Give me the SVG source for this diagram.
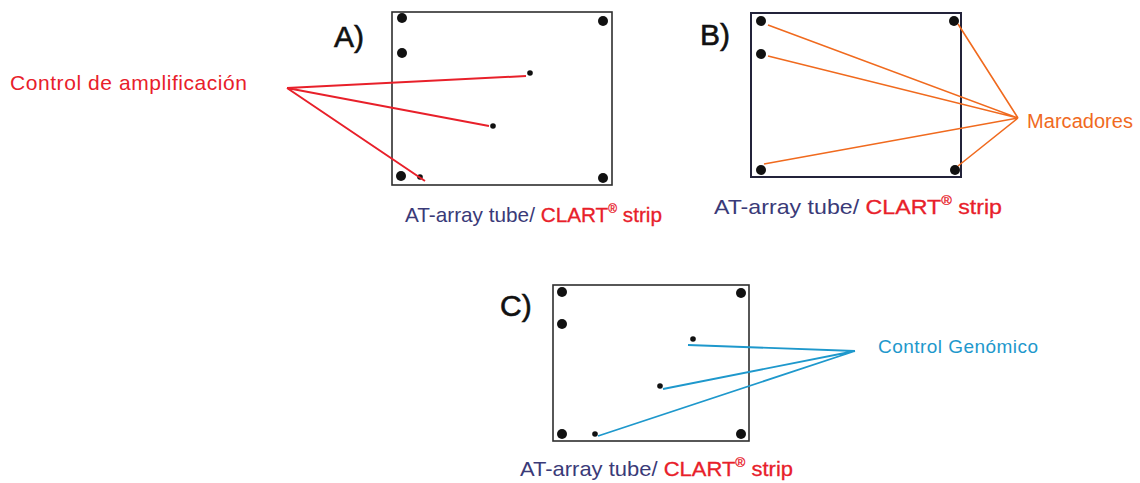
<svg xmlns="http://www.w3.org/2000/svg" width="1140" height="483" viewBox="0 0 1140 483">
<style>
.box{fill:none;stroke:#2e2e2e;stroke-width:1.6}
.big{fill:#111}
.sm{fill:#111}
.lbl{font-family:"Liberation Sans",Arial,sans-serif;font-size:30px;fill:#111;stroke:#111;stroke-width:0.6}
.cap{font-family:"Liberation Sans",Arial,sans-serif;font-size:21px;fill:#3a3a78}
.cap .r{fill:#e8202a;stroke:#e8202a;stroke-width:0.3}
.red{stroke:#e8202a;stroke-width:2;fill:none}
.org{stroke:#f06a1e;stroke-width:1.6;fill:none}
.blu{stroke:#1e98cc;stroke-width:1.8;fill:none}
.t{font-family:"Liberation Sans",Arial,sans-serif}
</style>
<rect width="1140" height="483" fill="#fff"/>
<g id="panelA">
<rect class="box" x="392" y="12" width="220" height="173"/>
<circle class="big" cx="402" cy="18" r="5"/>
<circle class="big" cx="402" cy="53" r="5"/>
<circle class="big" cx="603" cy="21" r="5"/>
<circle class="big" cx="401" cy="176" r="5"/>
<circle class="big" cx="603" cy="178" r="5"/>
<circle class="sm" cx="530" cy="73" r="2.8"/>
<circle class="sm" cx="493" cy="126" r="2.8"/>
<circle class="sm" cx="420" cy="177" r="2.8"/>
<text class="lbl" x="334" y="47">A)</text>
<text class="cap" x="405" y="222" font-size="19.5" textLength="257" lengthAdjust="spacingAndGlyphs">AT-array tube/ <tspan class="r">CLART</tspan><tspan class="r" font-size="12" dy="-9">®</tspan><tspan class="r" dy="9"> strip</tspan></text>
</g>
<g id="panelB">
<rect class="box" x="751" y="13" width="210" height="164" style="stroke:#23233a;stroke-width:2"/>
<circle class="big" cx="761" cy="21" r="5"/>
<circle class="big" cx="761" cy="54" r="5"/>
<circle class="big" cx="954" cy="21" r="5"/>
<circle class="big" cx="761" cy="170" r="5"/>
<circle class="big" cx="955" cy="170" r="5"/>
<text class="lbl" x="700" y="45">B)</text>
<text class="cap" x="714" y="214" textLength="288" lengthAdjust="spacingAndGlyphs">AT-array tube/ <tspan class="r">CLART</tspan><tspan class="r" font-size="13" dy="-9">®</tspan><tspan class="r" dy="9"> strip</tspan></text>
</g>
<g id="panelC">
<rect class="box" x="553" y="285" width="196" height="156"/>
<circle class="big" cx="562" cy="292" r="5"/>
<circle class="big" cx="562" cy="324" r="5"/>
<circle class="big" cx="741" cy="293" r="5"/>
<circle class="big" cx="562" cy="434" r="5"/>
<circle class="big" cx="741" cy="434" r="5"/>
<circle class="sm" cx="693" cy="339" r="2.8"/>
<circle class="sm" cx="660" cy="386" r="2.8"/>
<circle class="sm" cx="595" cy="434" r="2.8"/>
<text class="lbl" x="500" y="316">C)</text>
<text class="cap" x="520" y="476" textLength="273" lengthAdjust="spacingAndGlyphs">AT-array tube/ <tspan class="r">CLART</tspan><tspan class="r" font-size="13" dy="-9">®</tspan><tspan class="r" dy="9"> strip</tspan></text>
</g>
<g id="labelAmp">
<text class="t" x="10" y="90" fill="#e8202a" font-size="21" textLength="237" lengthAdjust="spacing">Control de amplificación</text>
</g>
<g id="labelMarc">
<text class="t" x="1027" y="128" fill="#f06a1e" font-size="20" textLength="106" lengthAdjust="spacing">Marcadores</text>
</g>
<g id="labelGen">
<text class="t" x="878" y="353" fill="#1e98cc" font-size="19" textLength="160" lengthAdjust="spacing">Control Genómico</text>
</g>
<g id="connectors">
<path class="red" d="M287 88 L526 76 M287 88 L489 126 M287 88 L425 181"/>
<path class="org" d="M1018 118 L768 25 M1018 118 L768 56 M1018 118 L764 164 M1018 118 L958 24 M1018 118 L958 166"/>
<path class="blu" d="M855 351 L688 345 M855 351 L663 389 M855 351 L598 436"/>
</g>
</svg>
